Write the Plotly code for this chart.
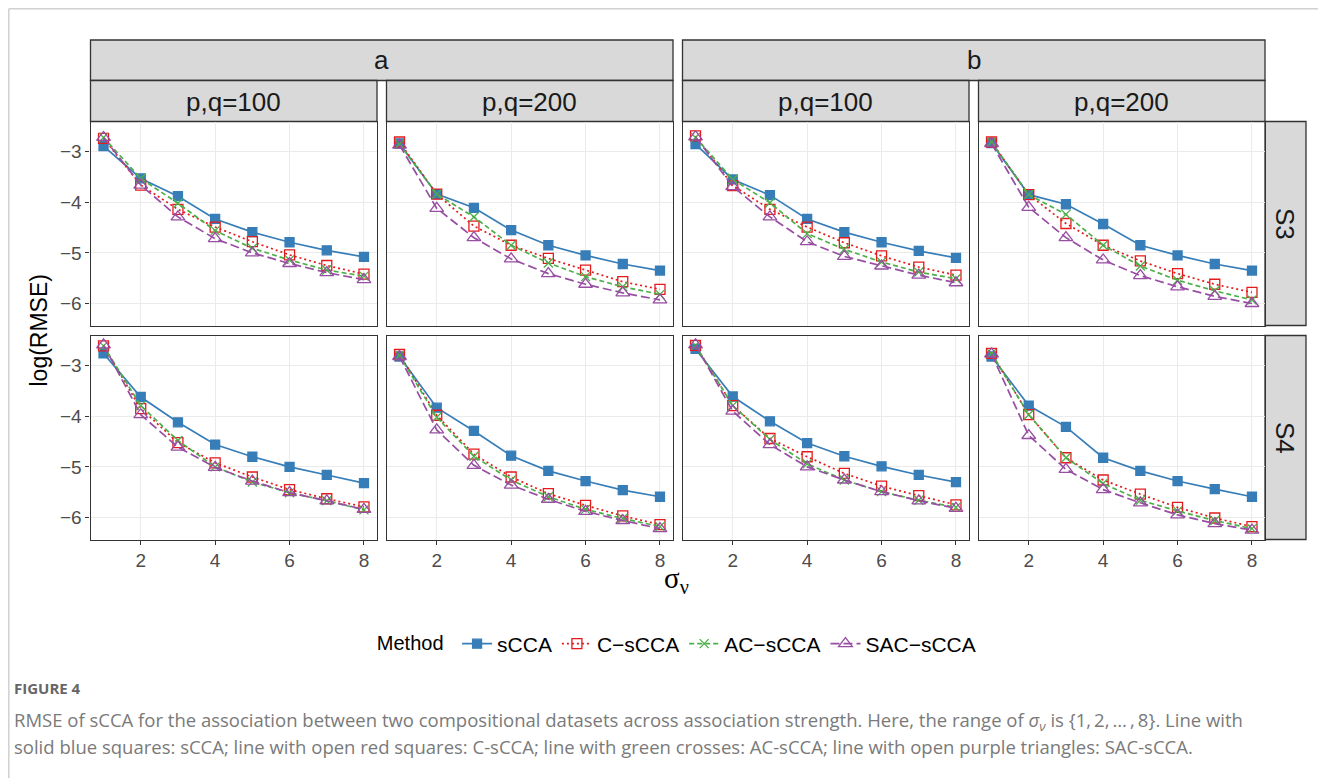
import plotly.graph_objects as go

W, H = 1326, 778
OFF = 8  # page body margin in the browser

x_vals = [1, 2, 3, 4, 5, 6, 7, 8]
methods = ["sCCA", "C\u2212sCCA", "AC\u2212sCCA", "SAC\u2212sCCA"]
col_groups = ["a", "a", "b", "b"]
col_sizes = ["p,q=100", "p,q=200", "p,q=100", "p,q=200"]
row_labels = ["S3", "S4"]
y_ticks = [-3, -4, -5, -6]
x_ticks = [2, 4, 6, 8]

# ---- S3 row ----
sCCA_S3_a100 = [-2.89, -3.53, -3.88, -4.33, -4.59, -4.79, -4.95, -5.08]
CsCCA_S3_a100 = [-2.74, -3.66, -4.14, -4.49, -4.78, -5.04, -5.25, -5.42]
ACsCCA_S3_a100 = [-2.72, -3.53, -4.02, -4.56, -4.91, -5.14, -5.34, -5.46]
SACsCCA_S3_a100 = [-2.72, -3.66, -4.29, -4.72, -5.00, -5.21, -5.39, -5.53]

sCCA_S3_a200 = [-2.84, -3.84, -4.11, -4.55, -4.85, -5.05, -5.22, -5.35]
CsCCA_S3_a200 = [-2.81, -3.84, -4.47, -4.85, -5.11, -5.34, -5.57, -5.72]
ACsCCA_S3_a200 = [-2.85, -3.84, -4.29, -4.85, -5.20, -5.47, -5.67, -5.82]
SACsCCA_S3_a200 = [-2.87, -4.12, -4.70, -5.12, -5.41, -5.62, -5.79, -5.93]

sCCA_S3_b100 = [-2.85, -3.55, -3.86, -4.33, -4.59, -4.79, -4.96, -5.10]
CsCCA_S3_b100 = [-2.69, -3.67, -4.14, -4.49, -4.80, -5.06, -5.28, -5.44]
ACsCCA_S3_b100 = [-2.72, -3.55, -4.01, -4.62, -4.93, -5.18, -5.38, -5.51]
SACsCCA_S3_b100 = [-2.71, -3.69, -4.29, -4.78, -5.07, -5.26, -5.44, -5.59]

sCCA_S3_b200 = [-2.83, -3.85, -4.04, -4.43, -4.85, -5.05, -5.22, -5.35]
CsCCA_S3_b200 = [-2.81, -3.85, -4.42, -4.85, -5.16, -5.41, -5.62, -5.78]
ACsCCA_S3_b200 = [-2.81, -3.85, -4.24, -4.85, -5.26, -5.54, -5.75, -5.93]
SACsCCA_S3_b200 = [-2.84, -4.10, -4.70, -5.14, -5.45, -5.67, -5.86, -6.00]

# ---- S4 row ----
sCCA_S4_a100 = [-2.76, -3.62, -4.12, -4.56, -4.80, -5.00, -5.16, -5.32]
CsCCA_S4_a100 = [-2.61, -3.85, -4.52, -4.92, -5.20, -5.45, -5.63, -5.79]
ACsCCA_S4_a100 = [-2.61, -3.79, -4.48, -5.00, -5.30, -5.51, -5.67, -5.85]
SACsCCA_S4_a100 = [-2.59, -3.97, -4.61, -5.01, -5.28, -5.51, -5.67, -5.84]

sCCA_S4_a200 = [-2.82, -3.83, -4.29, -4.78, -5.08, -5.28, -5.46, -5.59]
CsCCA_S4_a200 = [-2.78, -3.98, -4.75, -5.20, -5.53, -5.76, -5.97, -6.14]
ACsCCA_S4_a200 = [-2.80, -4.02, -4.79, -5.26, -5.59, -5.84, -6.02, -6.18]
SACsCCA_S4_a200 = [-2.82, -4.27, -4.97, -5.36, -5.64, -5.88, -6.06, -6.22]

sCCA_S4_b100 = [-2.67, -3.61, -4.10, -4.53, -4.79, -4.99, -5.16, -5.30]
CsCCA_S4_b100 = [-2.60, -3.79, -4.44, -4.80, -5.13, -5.38, -5.57, -5.75]
ACsCCA_S4_b100 = [-2.60, -3.79, -4.46, -4.94, -5.26, -5.49, -5.66, -5.80]
SACsCCA_S4_b100 = [-2.59, -3.90, -4.56, -5.00, -5.26, -5.49, -5.67, -5.82]

sCCA_S4_b200 = [-2.82, -3.79, -4.21, -4.82, -5.08, -5.28, -5.44, -5.59]
CsCCA_S4_b200 = [-2.76, -3.97, -4.82, -5.26, -5.54, -5.80, -6.01, -6.18]
ACsCCA_S4_b200 = [-2.76, -3.97, -4.82, -5.33, -5.66, -5.87, -6.06, -6.22]
SACsCCA_S4_b200 = [-2.77, -4.38, -5.05, -5.45, -5.71, -5.95, -6.12, -6.25]

panels = [
    [
        [sCCA_S3_a100, CsCCA_S3_a100, ACsCCA_S3_a100, SACsCCA_S3_a100],
        [sCCA_S3_a200, CsCCA_S3_a200, ACsCCA_S3_a200, SACsCCA_S3_a200],
        [sCCA_S3_b100, CsCCA_S3_b100, ACsCCA_S3_b100, SACsCCA_S3_b100],
        [sCCA_S3_b200, CsCCA_S3_b200, ACsCCA_S3_b200, SACsCCA_S3_b200],
    ],
    [
        [sCCA_S4_a100, CsCCA_S4_a100, ACsCCA_S4_a100, SACsCCA_S4_a100],
        [sCCA_S4_a200, CsCCA_S4_a200, ACsCCA_S4_a200, SACsCCA_S4_a200],
        [sCCA_S4_b100, CsCCA_S4_b100, ACsCCA_S4_b100, SACsCCA_S4_b100],
        [sCCA_S4_b200, CsCCA_S4_b200, ACsCCA_S4_b200, SACsCCA_S4_b200],
    ],
]

# ---- styles ----
colors = ["#377EB8", "#E41A1C", "#4DAF4A", "#984EA3"]
dashes = ["solid", "2px,3px", "5px,3px", "9px,4px"]
symbols = ["square", "square-open", "x-thin-open", "triangle-up-open"]
msizes = [9, 10, 9, 12]

FONT = "Liberation Sans, Arial, sans-serif"
STRIP_FILL = "#D9D9D9"
DARK = "#333333"

# positions in page pixels (reference)
cols_px = [(90.5, 377.0), (386.5, 673.0), (682.5, 969.0), (978.5, 1265.0)]
rows_px = [(121.5, 325.5), (335.5, 539.5)]


def px(x):
    return (x - OFF) / W


def py(y):
    return 1 - (y - OFF) / H


fig = go.Figure()
layout_axes = {}
idx = 0
for r in range(2):
    for c in range(4):
        idx += 1
        xa = "x" if idx == 1 else f"x{idx}"
        ya = "y" if idx == 1 else f"y{idx}"
        for m in range(4):
            fig.add_trace(go.Scatter(
                x=x_vals, y=panels[r][c][m], xaxis=xa, yaxis=ya,
                mode="lines+markers", name=methods[m],
                legendgroup=methods[m], showlegend=(idx == 1),
                line=dict(color=colors[m], width=1.7, dash=dashes[m]),
                marker=dict(symbol=symbols[m], size=msizes[m], color=colors[m],
                            line=dict(color=colors[m], width=1.3)),
            ))
        x0, x1 = cols_px[c]
        y0, y1 = rows_px[r]
        layout_axes["xaxis" if idx == 1 else f"xaxis{idx}"] = dict(
            domain=[px(x0), px(x1)], anchor=ya, range=[0.65, 8.35],
            tickvals=x_ticks, showticklabels=(r == 1),
            ticks="outside" if r == 1 else "", ticklen=4, tickwidth=1.2, tickcolor=DARK,
            tickfont=dict(family=FONT, size=19, color="#4D4D4D"),
            showgrid=True, gridcolor="#EBEBEB", gridwidth=1.3,
            showline=True, mirror=True, linecolor=DARK, linewidth=1.3,
            zeroline=False, fixedrange=True,
        )
        layout_axes["yaxis" if idx == 1 else f"yaxis{idx}"] = dict(
            domain=[py(y1), py(y0)], anchor=xa, range=[-6.435, -2.405],
            tickvals=y_ticks, showticklabels=(c == 0),
            ticks="outside" if c == 0 else "", ticklen=4, tickwidth=1.2, tickcolor=DARK,
            tickfont=dict(family=FONT, size=19, color="#4D4D4D"),
            showgrid=True, gridcolor="#EBEBEB", gridwidth=1.3,
            showline=True, mirror=True, linecolor=DARK, linewidth=1.3,
            zeroline=False, fixedrange=True,
        )

shapes = []
annotations = []

# page frame (light grey border at the page's top-left)
shapes.append(dict(type="line", xref="paper", yref="paper", x0=px(8.8), x1=1.0,
                   y0=py(8.8), y1=py(8.8), line=dict(color="#D0D0D0", width=1.5)))
shapes.append(dict(type="line", xref="paper", yref="paper", x0=px(8.8), x1=px(8.8),
                   y0=py(8.8), y1=0.0, line=dict(color="#D0D0D0", width=1.5)))

# top group strips
for g, (ca, cb) in zip(["a", "b"], [(0, 1), (2, 3)]):
    sx0, sx1 = cols_px[ca][0], cols_px[cb][1]
    shapes.append(dict(type="rect", xref="paper", yref="paper", x0=px(sx0), x1=px(sx1),
                       y0=py(80.5), y1=py(40), fillcolor=STRIP_FILL,
                       line=dict(color=DARK, width=1.3), layer="below"))
    annotations.append(dict(text=g, xref="paper", yref="paper", x=px((sx0 + sx1) / 2),
                            y=py(60), showarrow=False, xanchor="center", yanchor="middle",
                            font=dict(family=FONT, size=26, color="#1A1A1A")))

# size strips
for c in range(4):
    sx0, sx1 = cols_px[c]
    shapes.append(dict(type="rect", xref="paper", yref="paper", x0=px(sx0), x1=px(sx1),
                       y0=py(121.5), y1=py(80.5), fillcolor=STRIP_FILL,
                       line=dict(color=DARK, width=1.3), layer="below"))
    annotations.append(dict(text=col_sizes[c], xref="paper", yref="paper",
                            x=px((sx0 + sx1) / 2), y=py(102), showarrow=False,
                            xanchor="center", yanchor="middle",
                            font=dict(family=FONT, size=26, color="#1A1A1A")))

# row strips
for r in range(2):
    sy0, sy1 = rows_px[r]
    shapes.append(dict(type="rect", xref="paper", yref="paper", x0=px(1265), x1=px(1306),
                       y0=py(sy1), y1=py(sy0), fillcolor=STRIP_FILL,
                       line=dict(color=DARK, width=1.3), layer="below"))
    annotations.append(dict(text=row_labels[r], xref="paper", yref="paper",
                            x=px(1285.5), y=py((sy0 + sy1) / 2), showarrow=False,
                            textangle=90, xanchor="center", yanchor="middle",
                            font=dict(family=FONT, size=26, color="#1A1A1A")))

# axis titles
annotations.append(dict(text="log(RMSE)", xref="paper", yref="paper", x=px(38),
                        y=py(330.5), showarrow=False, textangle=-90,
                        xanchor="center", yanchor="middle",
                        font=dict(family=FONT, size=23, color="#000000")))
annotations.append(dict(text="\u03c3<sub>\u03bd</sub>", xref="paper", yref="paper",
                        x=px(676), y=py(580), showarrow=False,
                        xanchor="center", yanchor="middle",
                        font=dict(family="Liberation Serif, serif", size=29, color="#000000")))

# caption
annotations.append(dict(text="<b>FIGURE 4</b>", xref="paper", yref="paper", x=px(12),
                        y=py(688), showarrow=False, xanchor="left", yanchor="middle",
                        font=dict(family="Open Sans, sans-serif", size=15, color="#666666")))
cap1 = ("RMSE of sCCA for the association between two compositional datasets across association "
        "strength. Here, the range of <i>\u03c3<sub>\u03bd</sub></i> is {1,\u20092,\u2009\u2026\u2009,\u20098}. Line with")
cap2 = ("solid blue squares: sCCA; line with open red squares: C-sCCA; line with green crosses: "
        "AC-sCCA; line with open purple triangles: SAC-sCCA.")
annotations.append(dict(text=cap1, xref="paper", yref="paper", x=px(12), y=py(721),
                        showarrow=False, xanchor="left", yanchor="middle",
                        font=dict(family="Open Sans, sans-serif", size=18.5, color="#7A7A7A")))
annotations.append(dict(text=cap2, xref="paper", yref="paper", x=px(12), y=py(746),
                        showarrow=False, xanchor="left", yanchor="middle",
                        font=dict(family="Open Sans, sans-serif", size=18.5, color="#7A7A7A")))

fig.update_layout(
    width=W, height=H,
    margin=dict(l=0, r=0, t=0, b=0),
    paper_bgcolor="white", plot_bgcolor="white",
    shapes=shapes, annotations=annotations,
    showlegend=True,
    legend=dict(orientation="h", x=px(677.8), xanchor="center", y=py(644), yanchor="middle",
                title=dict(text="Method ", font=dict(family=FONT, size=20, color="#000000")),
                font=dict(family=FONT, size=21, color="#000000"),
                bgcolor="rgba(0,0,0,0)"),
    **layout_axes,
)

fig.write_html("out.html")
